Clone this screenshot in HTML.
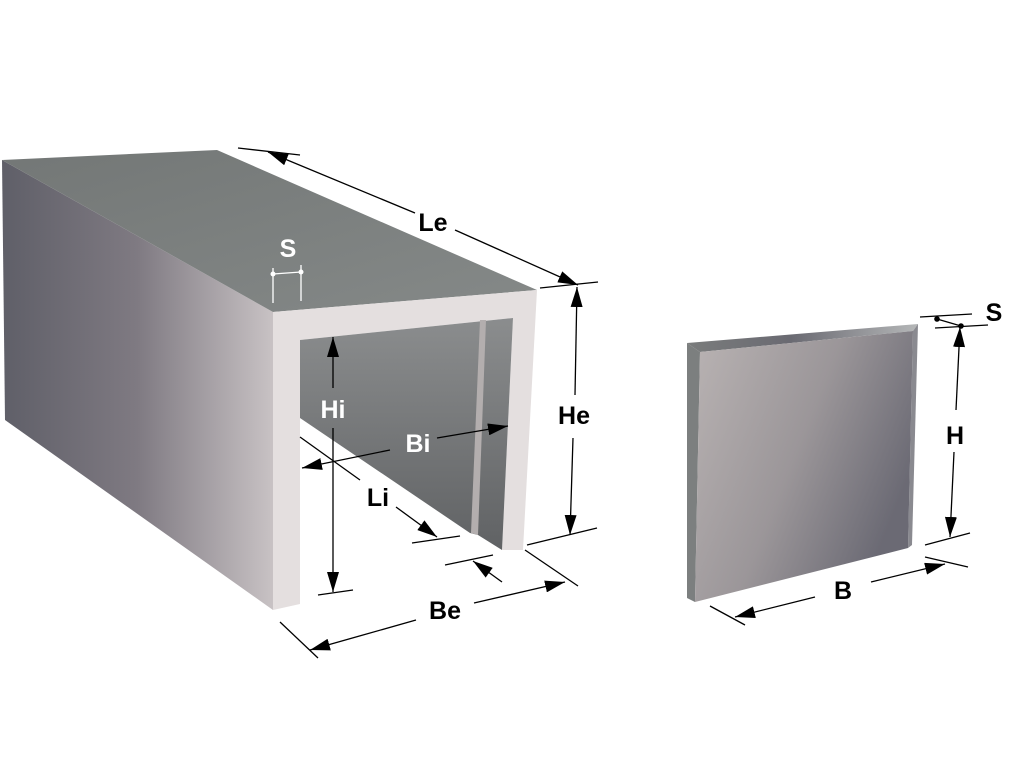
<!DOCTYPE html>
<html><head><meta charset="utf-8"><style>html,body{margin:0;padding:0;background:#fff}svg{display:block}text{font-family:"Liberation Sans",Arial,sans-serif;font-weight:bold;font-size:25px;text-anchor:middle}</style></head>
<body>
<svg width="1018" height="761" viewBox="0 0 1018 761" xmlns="http://www.w3.org/2000/svg">
<defs>
<linearGradient id="lf" x1="0" y1="0" x2="1" y2="0"><stop offset="0" stop-color="#5f5f68"/><stop offset="0.5" stop-color="#7f7a82"/><stop offset="1" stop-color="#c8c2c4"/></linearGradient>
<linearGradient id="tp" x1="0" y1="0" x2="1" y2="1"><stop offset="0" stop-color="#737776"/><stop offset="1" stop-color="#858988"/></linearGradient>
<linearGradient id="in" x1="0" y1="0" x2="0" y2="1"><stop offset="0" stop-color="#8b8d8e"/><stop offset="1" stop-color="#606264"/></linearGradient>
<linearGradient id="pf" x1="0" y1="0" x2="1" y2="0.5"><stop offset="0" stop-color="#b9b3b3"/><stop offset="0.55" stop-color="#9b9699"/><stop offset="1" stop-color="#6b6a74"/></linearGradient>
<linearGradient id="pt" x1="0" y1="0" x2="1" y2="0"><stop offset="0" stop-color="#7a7c7c"/><stop offset="0.45" stop-color="#6a6a72"/><stop offset="1" stop-color="#b5b7b8"/></linearGradient>
<marker id="a" viewBox="0 0 20 12" refX="20" refY="6" markerWidth="20" markerHeight="12" markerUnits="userSpaceOnUse" orient="auto-start-reverse"><path d="M0,0L20,6L0,12z" fill="#000"/></marker>
</defs>
<polygon points="2,160 273,312 273,610 5,420" fill="url(#lf)"/>
<polygon points="2,160 217,150 537,290 273,312" fill="url(#tp)"/>
<polygon points="273,312 537,290 523,550 502,550 513,318 300,340 300,604 273,610" fill="#e4dfdf"/>
<polygon points="300,340 513,318 502,550 478,535 470,533 300,418" fill="url(#in)"/>
<polygon points="480,320 486,320 478,535 471,533" fill="#b3aeae"/>
<polygon points="687,343 700,352 695,602 687,598" fill="#7c7f7f"/>
<polygon points="687,343 918,324 913,331 700,352" fill="url(#pt)"/>
<polygon points="918,324 913,331 908,548 912,545" fill="#8a8a90"/>
<polygon points="700,352 913,331 908,548 695,602" fill="url(#pf)"/>
<g stroke="#000" stroke-width="1.3" fill="none">
<line x1="238" y1="148" x2="300" y2="155"/><line x1="540" y1="288" x2="598" y2="282"/>
<line x1="268" y1="152" x2="415" y2="213" marker-start="url(#a)"/><line x1="455" y1="230" x2="578" y2="285" marker-end="url(#a)"/>
<line x1="527" y1="545" x2="597" y2="528"/>
<line x1="577" y1="287" x2="575" y2="395" marker-start="url(#a)"/><line x1="573" y1="438" x2="570" y2="535" marker-end="url(#a)"/>
<line x1="318" y1="595" x2="353" y2="590"/>
<line x1="333" y1="337" x2="333" y2="388" marker-start="url(#a)"/><line x1="333" y1="428" x2="333" y2="592" marker-end="url(#a)"/>
<line x1="302" y1="468" x2="390" y2="450" marker-start="url(#a)"/><line x1="437" y1="438" x2="508" y2="426" marker-end="url(#a)"/>
<line x1="300" y1="437" x2="360" y2="480"/>
<line x1="396" y1="507" x2="437" y2="537" marker-end="url(#a)"/>
<line x1="412" y1="543" x2="460" y2="536"/><line x1="445" y1="565" x2="493" y2="555"/>
<line x1="502" y1="582" x2="473" y2="561" marker-end="url(#a)"/>
<line x1="280" y1="622" x2="318" y2="658"/><line x1="525" y1="550" x2="578" y2="586"/>
<line x1="310" y1="650" x2="416" y2="620" marker-start="url(#a)"/><line x1="474" y1="603" x2="565" y2="582" marker-end="url(#a)"/>
<line x1="925" y1="545" x2="970" y2="533"/>
<line x1="960" y1="327" x2="956" y2="410" marker-start="url(#a)"/><line x1="954" y1="452" x2="950" y2="537" marker-end="url(#a)"/>
<line x1="920" y1="317" x2="972" y2="314"/><line x1="935" y1="328" x2="988" y2="325"/>
<line x1="937" y1="319" x2="961" y2="326"/>
<line x1="710" y1="606" x2="745" y2="625"/><line x1="925" y1="557" x2="968" y2="567"/>
<line x1="735" y1="617" x2="815" y2="597" marker-start="url(#a)"/><line x1="871" y1="582" x2="945" y2="564" marker-end="url(#a)"/>
</g>
<circle cx="937" cy="319" r="2.8"/><circle cx="961" cy="326" r="2.8"/>
<g stroke="#fff" stroke-width="1.3"><line x1="273" y1="268" x2="273" y2="303"/><line x1="301" y1="265" x2="301" y2="301"/><line x1="273" y1="274" x2="301" y2="272"/></g>
<circle cx="273" cy="274" r="2.5" fill="#fff"/><circle cx="301" cy="272" r="2.5" fill="#fff"/>
<text x="288" y="257" fill="#fff">S</text>
<text x="433" y="231">Le</text>
<text x="574" y="424">He</text>
<text x="333" y="418" fill="#fff">Hi</text>
<text x="418" y="452" fill="#fff">Bi</text>
<text x="378" y="506">Li</text>
<text x="445" y="619">Be</text>
<text x="994" y="321">S</text>
<text x="955" y="444">H</text>
<text x="843" y="599">B</text>
</svg>
</body></html>
